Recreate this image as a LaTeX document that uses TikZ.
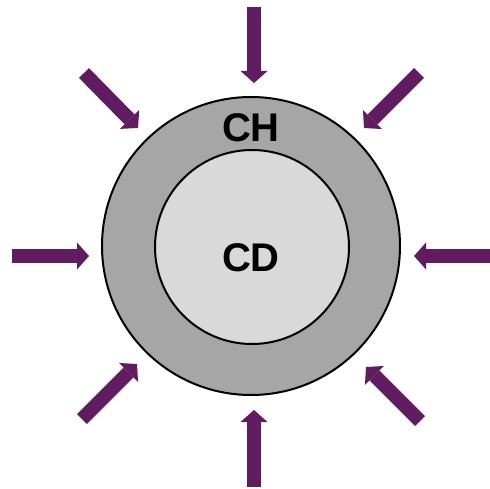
\documentclass[tikz,border=0pt]{standalone}
\usepackage{fontspec}
\setmainfont{Liberation Sans}
\usetikzlibrary{arrows.meta}
\definecolor{arrowpurple}{RGB}{97,27,96}
\definecolor{outergray}{RGB}{166,166,166}
\definecolor{innergray}{RGB}{217,217,217}
\tikzset{
  ring/.style={circle, draw=black, line width=2pt, inner sep=0pt},
  lbl/.style={font=\fontsize{40}{48}\selectfont\bfseries, inner sep=0pt},
  inarrow/.style={draw=arrowpurple, line width=14pt,
    -{Triangle[width=27pt,length=12pt,line width=0pt,fill=arrowpurple]}}
}
\begin{document}
\begin{tikzpicture}[x=1pt,y=-1pt]
\useasboundingbox (0,0) rectangle (490,489);
\node[ring, fill=outergray, minimum size=298pt] (ch) at (251,246) {};
\node[ring, fill=innergray, minimum size=194pt] (cd) at (252,247) {};
\node[lbl] (chl) at (251,128) {CH};
\node[lbl] (cdl) at (251,258) {CD};
% arrow ends
\coordinate (t1) at (254,7);   \coordinate (h1) at (254,83);
\coordinate (t2) at (254,487); \coordinate (h2) at (254,410);
\coordinate (t3) at (12,256);  \coordinate (h3) at (89,256);
\coordinate (t4) at (490,256); \coordinate (h4) at (414,256);
\coordinate (t5) at (84,73);   \coordinate (h5) at (138,128);
\coordinate (t6) at (419,73);  \coordinate (h6) at (364,128);
\coordinate (t7) at (82,419);  \coordinate (h7) at (137,364);
\coordinate (t8) at (420,421); \coordinate (h8) at (366,367);
\foreach \i in {1,...,8} {\draw[inarrow] (t\i) -- (h\i);}
\end{tikzpicture}
\end{document}
